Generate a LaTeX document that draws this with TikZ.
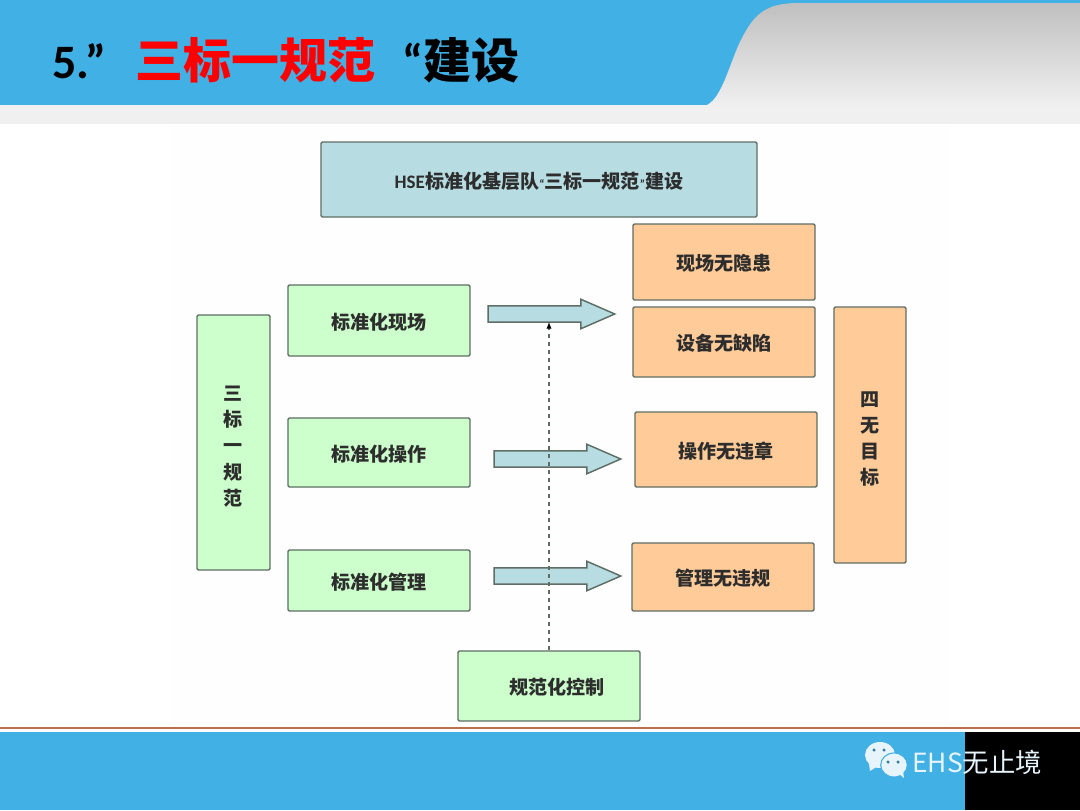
\documentclass[tikz,border=0pt]{standalone}
\usepackage{fontspec}
\setmainfont{Noto Sans CJK SC}
\newfontfamily\latinfont{Carlito}
\usetikzlibrary{shapes.arrows, arrows.meta}
\definecolor{HeadBlue}{RGB}{64, 176, 229}
\definecolor{BoxTeal}{RGB}{183, 221, 227}
\definecolor{BoxGreen}{RGB}{204, 255, 204}
\definecolor{BoxOrange}{RGB}{255, 204, 153}
\definecolor{LineGrey}{RGB}{95, 110, 100}
\definecolor{LabelGrey}{RGB}{45, 45, 45}
\definecolor{RuleBrown}{RGB}{190, 110, 75}
\definecolor{IconWhite}{RGB}{232, 244, 251}
\tikzset{
  boxsize/.style 2 args={minimum width=#1*0.75pt, minimum height=#2*0.75pt},
  basebox/.style={draw=LineGrey, line width=1.1pt, rounded corners=1pt, inner sep=0pt, align=center,
    text=LabelGrey, font=\fontsize{14.3}{19.6}\selectfont\bfseries,
    execute at begin node={\rule{0pt}{14.6pt}}},
  tealbox/.style={basebox, fill=BoxTeal},
  greenbox/.style={basebox, fill=BoxGreen},
  orangebox/.style={basebox, fill=BoxOrange},
  flowarrow/.style={single arrow, draw=LineGrey, line width=1.1pt, fill=BoxTeal,
    inner xsep=0pt, inner ysep=5.6pt,
    minimum height=95pt, minimum width=21pt, single arrow head extend=4.9pt,
    single arrow tip angle=47},
}
\begin{document}
\begin{tikzpicture}[x=0.75pt, y=-0.75pt]
    \useasboundingbox (0,0) rectangle (1080,810);

    % Header
    \fill[black!0.5] (170,125) rectangle (950,728);
    \fill[black!6] (0,105) rectangle (1080,124);
    \fill[HeadBlue] (0,0) rectangle (1080,105);
    \shade[top color=black!25, bottom color=black!6]
      (704,106) .. controls (722,102) and (730,60) .. (742,38)
      .. controls (755,12) and (768,4) .. (795,3) -- (1080,3) -- (1080,106) -- cycle;
    \node[anchor=west, inner sep=0pt, font=\fontsize{36}{40}\selectfont\bfseries] (title) at (52,60)
      {{\latinfont 5.”}\hspace{21.5pt}\textcolor{red}{三标一规范}\hspace{20.5pt}{\latinfont “}建设};

    % Top box
    \node[tealbox, boxsize={436}{75}] (hsebox) at (539,179.5)
      {{\latinfont HSE}标准化基层队{\latinfont\small “}三标一规范{\latinfont\small ”}建设};

    % Left column
    \node[greenbox, boxsize={73}{255}] (sanbiao) at (233.5,442.5) {\rule{0pt}{17pt}三\\标\\一\\规\\范};
    \node[greenbox, boxsize={182}{71}] (stdsite) at (379,320.5) {标准化现场};
    \node[greenbox, boxsize={182}{69}] (stdoper) at (379,452.5) {标准化操作};
    \node[greenbox, boxsize={182}{61}] (stdmanage) at (379,580.5) {标准化管理};
    \node[greenbox, boxsize={182}{70}] (stdcontrol) at (549,686) {\hspace{12pt}规范化控制};

    % Right column
    \node[orangebox, boxsize={182}{76}] (nohazard) at (724,262) {现场无隐患};
    \node[orangebox, boxsize={182}{70}] (nodefect) at (724,342) {设备无缺陷};
    \node[orangebox, boxsize={182}{75}] (noviolate) at (726,449.5) {操作无违章};
    \node[orangebox, boxsize={182}{68}] (nobreach) at (723,577) {管理无违规};
    \node[orangebox, boxsize={72}{256}] (siwu) at (870,435) {\rule{0pt}{17pt}四\\无\\目\\标};

    % Arrows
    \node[flowarrow] (arrowsite) at (542,314) {};
    \node[flowarrow] (arrowoper) at (548,459) {};
    \node[flowarrow] (arrowmanage) at (548,576) {};
    \coordinate (shaftedge) at (549,322);
    \draw[dashed, line width=0.8pt, LineGrey, -{Latex[black, length=5pt, width=4pt]}] (stdcontrol.north) -- (shaftedge);

    % Footer
    \draw[RuleBrown, line width=0.8pt] (0,728) -- (1080,728);
    \fill[HeadBlue] (0,732) rectangle (1080,810);
    \fill[black] (965,732) rectangle (1080,810);
    \begin{scope}[IconWhite]
      \fill (880,755) ellipse [x radius=11.25pt, y radius=9.75pt];
      \fill (869,764) -- (870,771) -- (878,766) -- cycle;
      \fill[draw=HeadBlue, line width=0.8pt] (894,765) ellipse [x radius=10pt, y radius=9pt];
      \fill (898,773) -- (904,778) -- (903,771) -- cycle;
      \fill[HeadBlue!70!black] (874,750) circle [radius=1.3pt] (884,750) circle [radius=1.3pt]
        (888,762) circle [radius=1.3pt] (898,762) circle [radius=1.3pt];
    \end{scope}
    \node[anchor=west, inner sep=0pt, text=IconWhite, font=\fontsize{19.8}{24}\selectfont] (brand) at (912,762) {EHS无止境};
\end{tikzpicture}
\end{document}
